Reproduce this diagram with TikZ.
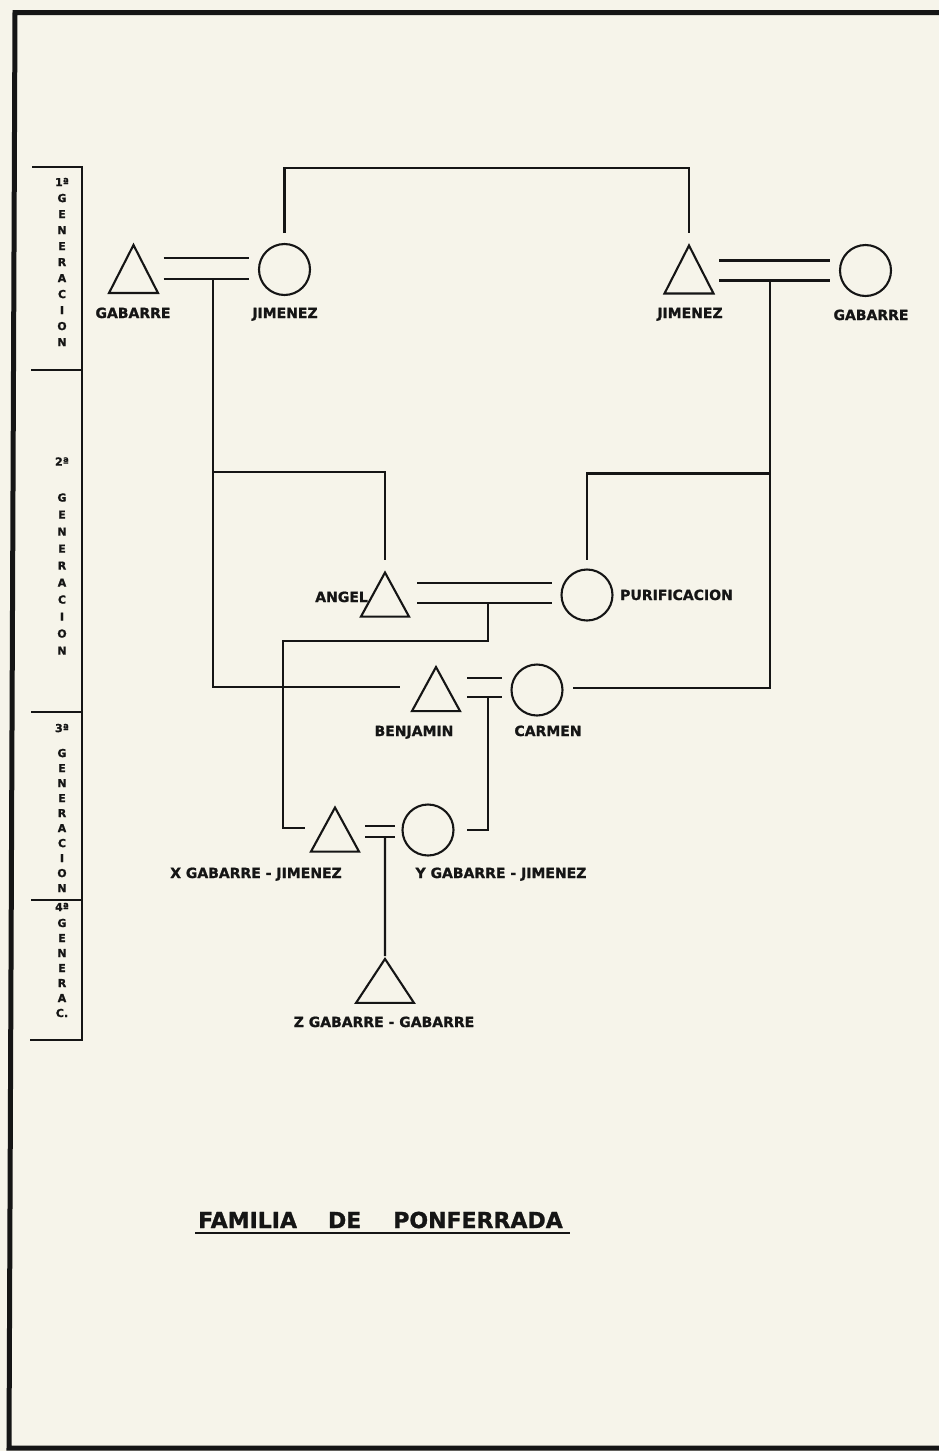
\documentclass[tikz,border=0pt]{standalone}
\usepackage{fontspec}
\setsansfont{DejaVu Sans}[BoldFeatures={FakeBold=1.2}]
\usetikzlibrary{shapes.geometric,calc}

\definecolor{paper}{HTML}{F6F4EA}
\definecolor{ink}{HTML}{151515}

\tikzset{
  line/.style={ink, line width=2.1pt},
  male/.style={isosceles triangle, isosceles triangle stretches, shape border rotate=90,
    draw=ink, line width=2.1pt, inner sep=0pt, minimum width=48pt, minimum height=44pt},
  female/.style={circle, draw=ink, line width=2.1pt, inner sep=0pt, minimum size=51pt},
  lbl/.style={font=\sffamily\bfseries\fontsize{14}{16}\selectfont, text=ink, inner sep=0pt,
    text height=10pt, text depth=0pt},
  gentext/.style={font=\sffamily\bfseries\fontsize{11}{#1}\selectfont, text=ink,
    align=center, inner sep=0pt},
}

\begin{document}
\begin{tikzpicture}[x=1pt, y=-1pt]

% paper and frame
\fill[paper] (0,0) rectangle (939,1451);
\useasboundingbox (0,0) rectangle (939,1451);
\draw[ink, line width=5pt] (939,12.5) -- (15,12.5) -- (9,1448) -- (939,1448);

% generation bar
\draw[line] (32,167) -- (82,167) -- (82,1040) -- (30,1040);
\foreach \y in {370,712,900}
  \draw[line] (31,\y) -- (82,\y);
\node[gentext=16] (gen1) at (62,262) {1ª\\G\\E\\N\\E\\R\\A\\C\\I\\O\\N};
\node[gentext=17] (gen2) at (62,556) {2ª\\[19pt]G\\E\\N\\E\\R\\A\\C\\I\\O\\N};
\node[gentext=15] (gen3) at (62,808) {3ª\\[10pt]G\\E\\N\\E\\R\\A\\C\\I\\O\\N};
\node[gentext=15] (gen4) at (62,960) {4ª\\[1pt]G\\E\\N\\E\\R\\A\\C.};

% first generation (triangle centre sits a sixth of its height below the middle)
\node[male, minimum width=49pt, minimum height=48pt] (gabA) at (133.5,278) {};
\node[female] (jimA) at (284.5,269.5) {};
\node[male, minimum width=49pt, minimum height=48pt] (jimB) at (689,278.5) {};
\node[female] (gabB) at (865.5,270.5) {};

\node[lbl] (lgabA) at (133,313) {GABARRE};
\node[lbl] (ljimA) at (285,313) {JIMENEZ};
\node[lbl] (ljimB) at (690,313) {JIMENEZ};
\node[lbl] (lgabB) at (871,315) {GABARRE};

% second generation
\node[male] (angel) at (385,602.3) {};
\node[female] (pur) at (587,595) {};
\node[male] (benjamin) at (436,696.8) {};
\node[female] (carmen) at (537,690) {};

\node[lbl, anchor=east] (langel) at (368,597) {ANGEL};
\node[lbl, anchor=west] (lpur) at (620,595) {PURIFICACION};
\node[lbl] (lbenjamin) at (414,731) {BENJAMIN};
\node[lbl] (lcarmen) at (548,731) {CARMEN};

% third and fourth generation
\node[male] (xgj) at (335,837.3) {};
\node[female] (ygj) at (428,830) {};
\node[male, minimum width=58pt] (zgg) at (385,987.3) {};

\node[lbl] (lxgj) at (256,873) {X GABARRE - JIMENEZ};
\node[lbl] (lygj) at (501,873) {Y GABARRE - JIMENEZ};
\node[lbl] (lzgg) at (384,1022) {Z GABARRE - GABARRE};

% marriages
\draw[line] ([shift={(30,-20)}]gabA.center) -- ([shift={(-36,-11.5)}]jimA.center);
\draw[line] ([shift={(30,1)}]gabA.center) -- coordinate[pos=.58] (dA) ([shift={(-36,9.5)}]jimA.center);
\draw[line] ([shift={(30,-18)}]jimB.center) -- ([shift={(-36,-10)}]gabB.center);
\draw[line] ([shift={(30,2)}]jimB.center) -- coordinate[pos=.46] (dB) ([shift={(-36,10)}]gabB.center);
\draw[line] ([shift={(32,-19.3)}]angel.center) -- ([shift={(-35,-12)}]pur.center);
\draw[line] ([shift={(32,0.7)}]angel.center) -- coordinate[pos=.526] (dC) ([shift={(-35,8)}]pur.center);
\draw[line] ([shift={(31,-18.8)}]benjamin.center) -- ([shift={(-35,-12)}]carmen.center);
\draw[line] ([shift={(31,0.2)}]benjamin.center) -- coordinate[pos=.6] (dD) ([shift={(-35,7)}]carmen.center);
\draw[line] ([shift={(30,-11.3)}]xgj.center) -- ([shift={(-33,-4)}]ygj.center);
\draw[line] ([shift={(30,-0.3)}]xgj.center) -- coordinate[pos=.667] (dE) ([shift={(-33,7)}]ygj.center);

% siblings of the first generation
\draw[line] ($(jimA.center)+(0,-36.5)$) -- ++(0,-65) -| ($(jimB.center)+(0,-45.5)$);

% descent
\draw[line] (dA) |- ($(benjamin.center)+(-36,-9.8)$);
\draw[line] ($(dA)+(0,193)$) -| ($(angel.center)+(0,-42.3)$);
\draw[line] (dB) |- ($(carmen.center)+(36,-2)$);
\draw[line] ($(dB)+(0,193)$) -| ($(pur.center)+(0,-35)$);
\draw[line] (dC) -- ++(0,38) -| ($(xgj.center)+(-52,-9.3)$) -- ($(xgj.center)+(-30,-9.3)$);
\draw[line] (dD) |- ($(ygj.center)+(39,0)$);
\draw[line] (dE) -- (zgg.apex);

% title
\node[anchor=base west, inner sep=0pt, text=ink, font=\sffamily\bfseries\fontsize{22}{26}\selectfont]
  (title) at (198,1228) {FAMILIA\hspace{31pt}DE\hspace{32pt}PONFERRADA};
\draw[ink, line width=2.6pt] ($(title.base west)+(-3,5)$) -- ($(title.base east)+(7,5)$);

\end{tikzpicture}
\end{document}
